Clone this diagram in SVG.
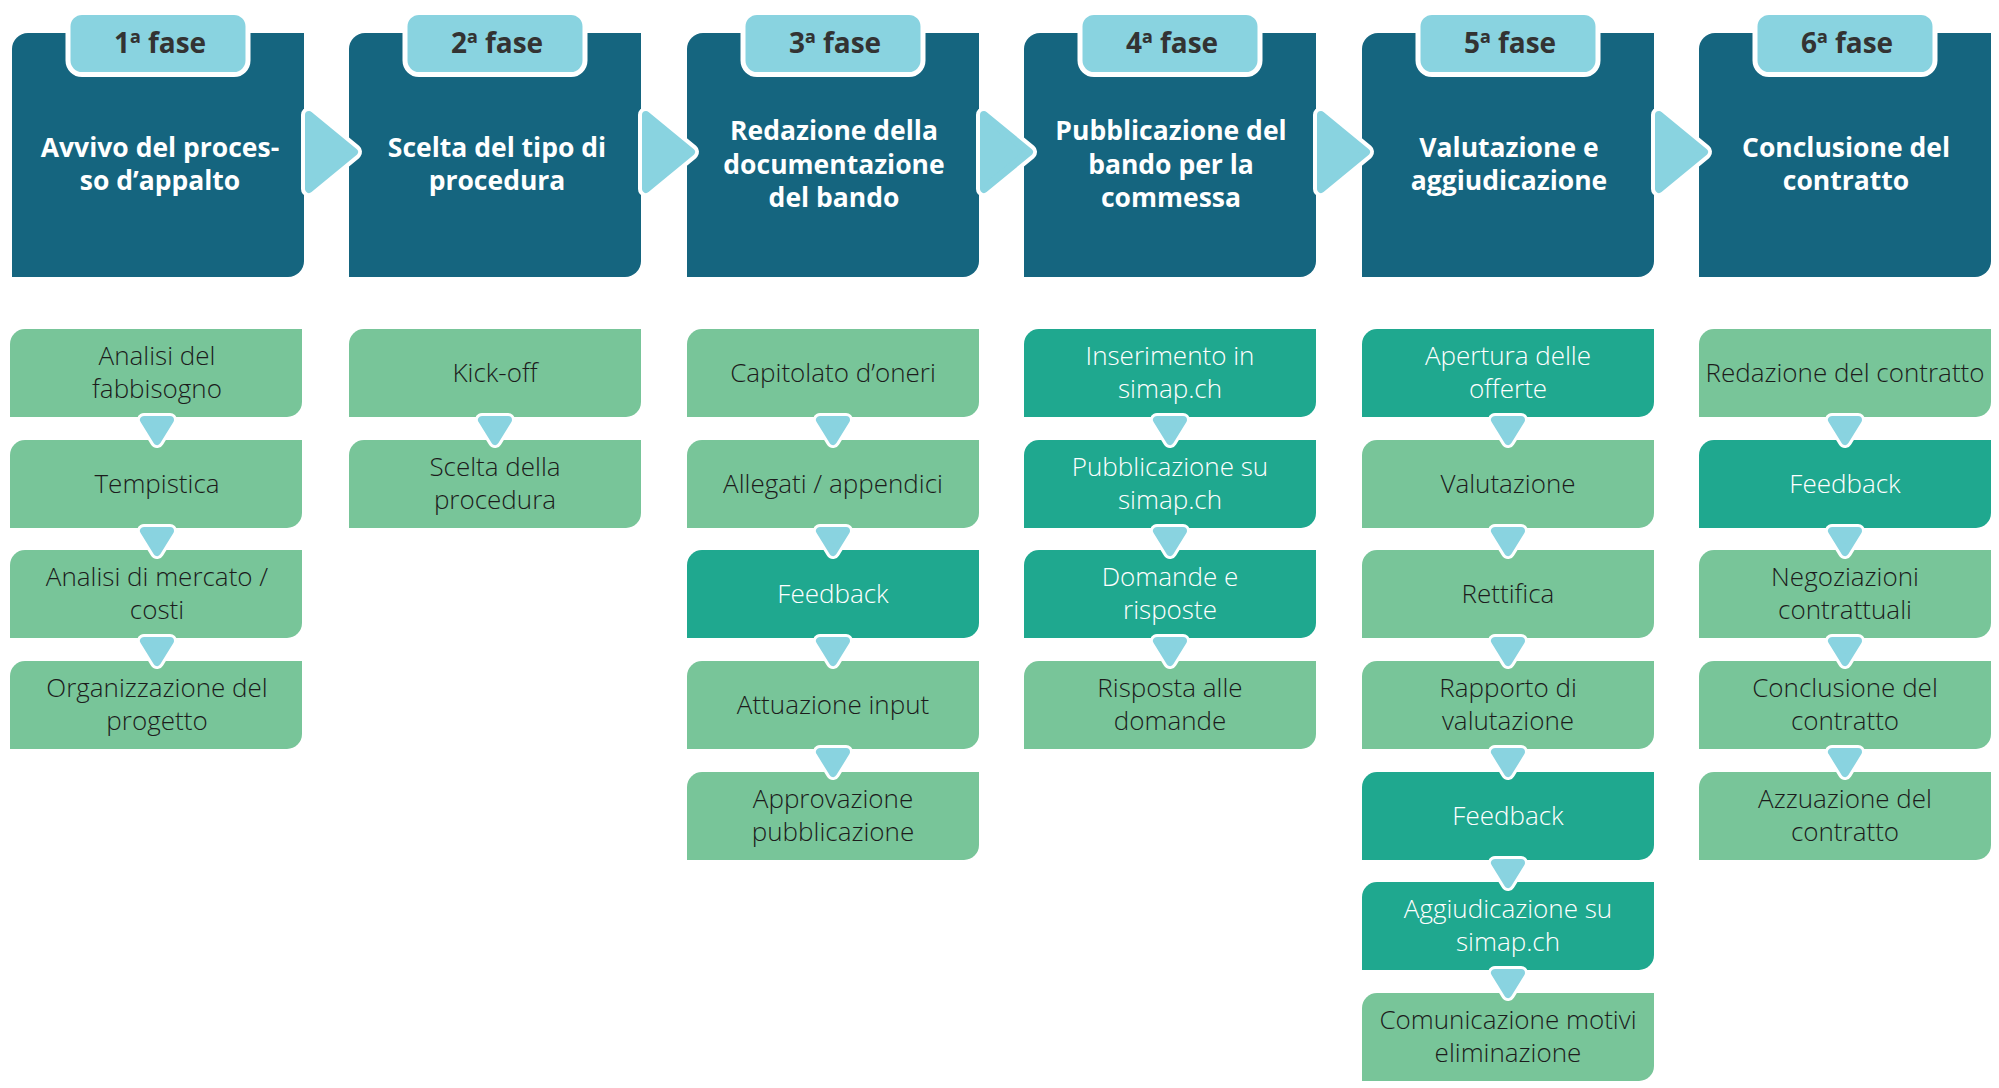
<svg xmlns="http://www.w3.org/2000/svg" xmlns:xlink="http://www.w3.org/1999/xlink" width="1999" height="1088" viewBox="0 0 1999 1088">
<style>
.hdr{fill:#15657F}
.tab{fill:#89D3E0;stroke:#fff;stroke-width:5}
.lt{fill:#78C599}
.dk{fill:#1FA88F}
text{font-family:"Open Sans","Noto Sans","Liberation Sans",sans-serif;text-anchor:middle}
.tt{font-size:28px;font-weight:700;fill:#333}
.ht{font-size:26.5px;font-weight:700;fill:#fff}
.bt{font-size:26px;font-weight:350;fill:#1c1c1c}
.bw{font-size:26px;font-weight:350;fill:#fff}
</style>
<defs>
<path id="hbox" d="M16,0 H292 V228 A16,16 0 0 1 276,244 H0 V16 A16,16 0 0 1 16,0 Z"/>
<path id="box" d="M15,0 H292 V73 A15,15 0 0 1 277,88 H0 V15 A15,15 0 0 1 15,0 Z"/>
<g id="rarr">
<path d="M0,-37 L45,0 L0,37 Z" fill="#fff" stroke="#fff" stroke-width="16" stroke-linejoin="round"/>
<path d="M0,-37 L45,0 L0,37 Z" fill="#89D3E0" stroke="#89D3E0" stroke-width="8" stroke-linejoin="round"/>
</g>
<g id="darr">
<path d="M-13,0 H13 L0,21 Z" fill="#fff" stroke="#fff" stroke-width="14" stroke-linejoin="round"/>
<path d="M-13,0 H13 L0,21 Z" fill="#89D3E0" stroke="#89D3E0" stroke-width="8" stroke-linejoin="round"/>
</g>
</defs>
<rect width="1999" height="1088" fill="#fff"/>

<g id="phase1">
<use href="#hbox" x="12" y="33" class="hdr"/>
<rect class="tab" x="68" y="12.5" width="180" height="62" rx="14"/>
<text class="tt" x="160" y="53">1ª fase</text>
<text class="ht" x="160" y="157">Avvivo del proces-</text>
<text class="ht" x="160" y="190">so d’appalto</text>
</g>
<g id="phase2">
<use href="#hbox" x="349" y="33" class="hdr"/>
<rect class="tab" x="405" y="12.5" width="180" height="62" rx="14"/>
<text class="tt" x="497" y="53">2ª fase</text>
<text class="ht" x="497" y="157">Scelta del tipo di</text>
<text class="ht" x="497" y="190">procedura</text>
</g>
<g id="phase3">
<use href="#hbox" x="687" y="33" class="hdr"/>
<rect class="tab" x="743" y="12.5" width="180" height="62" rx="14"/>
<text class="tt" x="835" y="53">3ª fase</text>
<text class="ht" x="834" y="140">Redazione della</text>
<text class="ht" x="834" y="173.5">documentazione</text>
<text class="ht" x="834" y="207">del bando</text>
</g>
<g id="phase4">
<use href="#hbox" x="1024" y="33" class="hdr"/>
<rect class="tab" x="1080" y="12.5" width="180" height="62" rx="14"/>
<text class="tt" x="1172" y="53">4ª fase</text>
<text class="ht" x="1171" y="140">Pubblicazione del</text>
<text class="ht" x="1171" y="173.5">bando per la</text>
<text class="ht" x="1171" y="207">commessa</text>
</g>
<g id="phase5">
<use href="#hbox" x="1362" y="33" class="hdr"/>
<rect class="tab" x="1418" y="12.5" width="180" height="62" rx="14"/>
<text class="tt" x="1510" y="53">5ª fase</text>
<text class="ht" x="1509" y="157">Valutazione e</text>
<text class="ht" x="1509" y="190">aggiudicazione</text>
</g>
<g id="phase6">
<use href="#hbox" x="1699" y="33" class="hdr"/>
<rect class="tab" x="1755" y="12.5" width="180" height="62" rx="14"/>
<text class="tt" x="1847" y="53">6ª fase</text>
<text class="ht" x="1846" y="157">Conclusione del</text>
<text class="ht" x="1846" y="190">contratto</text>
</g>

<!-- Column 1 -->
<g id="c1r1"><use href="#box" x="10" y="329" class="lt"/><text class="bt" x="157" y="364.5">Analisi del</text><text class="bt" x="157" y="398">fabbisogno</text></g>
<g id="c1r2"><use href="#box" x="10" y="440" class="lt"/><text class="bt" x="157" y="493">Tempistica</text></g>
<g id="c1r3"><use href="#box" x="10" y="550" class="lt"/><text class="bt" x="157" y="585.5">Analisi di mercato /</text><text class="bt" x="157" y="619">costi</text></g>
<g id="c1r4"><use href="#box" x="10" y="661" class="lt"/><text class="bt" x="157" y="696.5">Organizzazione del</text><text class="bt" x="157" y="730">progetto</text></g>

<!-- Column 2 -->
<g id="c2r1"><use href="#box" x="349" y="329" class="lt"/><text class="bt" x="495" y="382">Kick-off</text></g>
<g id="c2r2"><use href="#box" x="349" y="440" class="lt"/><text class="bt" x="495" y="475.5">Scelta della</text><text class="bt" x="495" y="509">procedura</text></g>

<!-- Column 3 -->
<g id="c3r1"><use href="#box" x="687" y="329" class="lt"/><text class="bt" x="833" y="382">Capitolato d’oneri</text></g>
<g id="c3r2"><use href="#box" x="687" y="440" class="lt"/><text class="bt" x="833" y="493">Allegati / appendici</text></g>
<g id="c3r3"><use href="#box" x="687" y="550" class="dk"/><text class="bw" x="833" y="603">Feedback</text></g>
<g id="c3r4"><use href="#box" x="687" y="661" class="lt"/><text class="bt" x="833" y="714">Attuazione input</text></g>
<g id="c3r5"><use href="#box" x="687" y="772" class="lt"/><text class="bt" x="833" y="807.5">Approvazione</text><text class="bt" x="833" y="841">pubblicazione</text></g>

<!-- Column 4 -->
<g id="c4r1"><use href="#box" x="1024" y="329" class="dk"/><text class="bw" x="1170" y="364.5">Inserimento in</text><text class="bw" x="1170" y="398">simap.ch</text></g>
<g id="c4r2"><use href="#box" x="1024" y="440" class="dk"/><text class="bw" x="1170" y="475.5">Pubblicazione su</text><text class="bw" x="1170" y="509">simap.ch</text></g>
<g id="c4r3"><use href="#box" x="1024" y="550" class="dk"/><text class="bw" x="1170" y="585.5">Domande e</text><text class="bw" x="1170" y="619">risposte</text></g>
<g id="c4r4"><use href="#box" x="1024" y="661" class="lt"/><text class="bt" x="1170" y="696.5">Risposta alle</text><text class="bt" x="1170" y="730">domande</text></g>

<!-- Column 5 -->
<g id="c5r1"><use href="#box" x="1362" y="329" class="dk"/><text class="bw" x="1508" y="364.5">Apertura delle</text><text class="bw" x="1508" y="398">offerte</text></g>
<g id="c5r2"><use href="#box" x="1362" y="440" class="lt"/><text class="bt" x="1508" y="493">Valutazione</text></g>
<g id="c5r3"><use href="#box" x="1362" y="550" class="lt"/><text class="bt" x="1508" y="603">Rettifica</text></g>
<g id="c5r4"><use href="#box" x="1362" y="661" class="lt"/><text class="bt" x="1508" y="696.5">Rapporto di</text><text class="bt" x="1508" y="730">valutazione</text></g>
<g id="c5r5"><use href="#box" x="1362" y="772" class="dk"/><text class="bw" x="1508" y="825">Feedback</text></g>
<g id="c5r6"><use href="#box" x="1362" y="882" class="dk"/><text class="bw" x="1508" y="917.5">Aggiudicazione su</text><text class="bw" x="1508" y="951">simap.ch</text></g>
<g id="c5r7"><use href="#box" x="1362" y="993" class="lt"/><text class="bt" x="1508" y="1028.5">Comunicazione motivi</text><text class="bt" x="1508" y="1062">eliminazione</text></g>

<!-- Column 6 -->
<g id="c6r1"><use href="#box" x="1699" y="329" class="lt"/><text class="bt" x="1845" y="382">Redazione del contratto</text></g>
<g id="c6r2"><use href="#box" x="1699" y="440" class="dk"/><text class="bw" x="1845" y="493">Feedback</text></g>
<g id="c6r3"><use href="#box" x="1699" y="550" class="lt"/><text class="bt" x="1845" y="585.5">Negoziazioni</text><text class="bt" x="1845" y="619">contrattuali</text></g>
<g id="c6r4"><use href="#box" x="1699" y="661" class="lt"/><text class="bt" x="1845" y="696.5">Conclusione del</text><text class="bt" x="1845" y="730">contratto</text></g>
<g id="c6r5"><use href="#box" x="1699" y="772" class="lt"/><text class="bt" x="1845" y="807.5">Azzuazione del</text><text class="bt" x="1845" y="841">contratto</text></g>

<g id="connectors">
<use href="#rarr" x="309" y="152"/>
<use href="#rarr" x="646" y="152"/>
<use href="#rarr" x="984" y="152"/>
<use href="#rarr" x="1321" y="152"/>
<use href="#rarr" x="1659" y="152"/>

<use href="#darr" x="157" y="420"/>
<use href="#darr" x="157" y="531"/>
<use href="#darr" x="157" y="641"/>

<use href="#darr" x="495" y="420"/>

<use href="#darr" x="833" y="420"/>
<use href="#darr" x="833" y="531"/>
<use href="#darr" x="833" y="641"/>
<use href="#darr" x="833" y="752"/>

<use href="#darr" x="1170" y="420"/>
<use href="#darr" x="1170" y="531"/>
<use href="#darr" x="1170" y="641"/>

<use href="#darr" x="1508" y="420"/>
<use href="#darr" x="1508" y="531"/>
<use href="#darr" x="1508" y="641"/>
<use href="#darr" x="1508" y="752"/>
<use href="#darr" x="1508" y="863"/>
<use href="#darr" x="1508" y="973"/>

<use href="#darr" x="1845" y="420"/>
<use href="#darr" x="1845" y="531"/>
<use href="#darr" x="1845" y="641"/>
<use href="#darr" x="1845" y="752"/>
</g>
</svg>
